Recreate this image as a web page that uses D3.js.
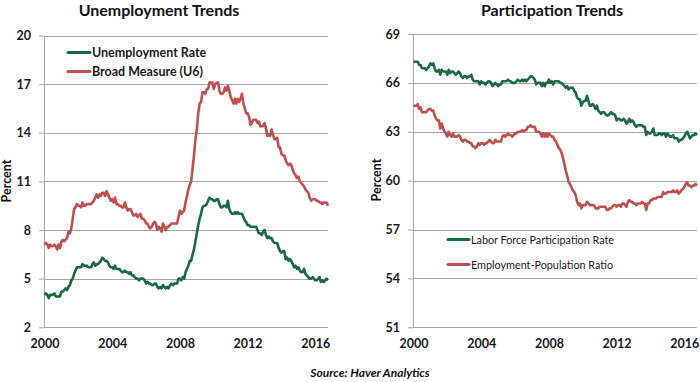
<!DOCTYPE html>
<html><head><meta charset="utf-8">
<script src="https://cdn.jsdelivr.net/npm/d3@7"></script>
<style>
html,body{margin:0;padding:0;background:#fff;}
svg{display:block;font-family:Lato,"Open Sans",sans-serif;}
</style></head>
<body><svg id="chart" width="700" height="382"></svg>
<script>
// Monthly data, Jan 2000 - Oct 2016
const startYear = 2000;
const unemploymentRate = [
4.0,4.1,4.0,3.8,4.0,4.0,4.0,4.1,3.9,3.9,3.9,3.9,
4.2,4.2,4.3,4.4,4.3,4.5,4.6,4.9,5.0,5.3,5.5,5.7,
5.7,5.7,5.7,5.9,5.8,5.8,5.8,5.7,5.7,5.7,5.9,6.0,
5.8,5.9,5.9,6.0,6.1,6.3,6.2,6.1,6.1,6.0,5.8,5.7,
5.7,5.6,5.8,5.6,5.6,5.6,5.5,5.4,5.4,5.5,5.4,5.4,
5.3,5.4,5.2,5.2,5.1,5.0,5.0,4.9,5.0,5.0,5.0,4.9,
4.7,4.8,4.7,4.7,4.6,4.6,4.7,4.7,4.5,4.4,4.5,4.4,
4.6,4.5,4.4,4.5,4.4,4.6,4.7,4.6,4.7,4.7,4.7,5.0,
5.0,4.9,5.1,5.0,5.4,5.6,5.8,6.1,6.1,6.5,6.8,7.3,
7.8,8.3,8.7,9.0,9.4,9.5,9.5,9.6,9.8,10.0,9.9,9.9,
9.8,9.8,9.9,9.9,9.6,9.4,9.4,9.5,9.5,9.4,9.8,9.3,
9.1,9.0,9.0,9.1,9.0,9.1,9.0,9.0,9.0,8.8,8.6,8.5,
8.3,8.3,8.2,8.2,8.2,8.2,8.2,8.0,7.8,7.8,7.7,7.9,
8.0,7.7,7.5,7.6,7.5,7.5,7.3,7.2,7.2,7.2,6.9,6.7,
6.6,6.7,6.7,6.2,6.3,6.1,6.2,6.1,5.9,5.7,5.8,5.6,
5.7,5.5,5.4,5.4,5.6,5.3,5.2,5.1,5.0,5.0,5.1,5.0,
4.9,4.9,5.0,5.1,4.8,4.9,4.8,4.9,5.0,4.9];
const broadMeasureU6 = [
7.1,7.2,7.1,6.9,7.1,7.0,7.0,7.1,7.0,6.8,7.1,6.9,
7.3,7.4,7.3,7.4,7.5,7.9,7.8,8.1,8.7,9.3,9.4,9.6,
9.5,9.5,9.4,9.7,9.5,9.5,9.6,9.6,9.6,9.6,9.7,9.8,
10.0,10.2,10.0,10.2,10.1,10.3,10.3,10.1,10.4,10.2,10.0,9.8,
9.9,9.7,10.0,9.6,9.6,9.5,9.5,9.4,9.4,9.7,9.4,9.2,
9.3,9.3,9.1,8.9,8.9,9.0,8.8,8.9,9.0,8.7,8.7,8.6,
8.4,8.4,8.2,8.1,8.2,8.4,8.5,8.4,8.0,8.2,8.1,7.9,
8.4,8.2,8.0,8.2,8.2,8.3,8.4,8.4,8.4,8.4,8.4,8.8,
9.2,9.0,9.1,9.2,9.7,10.1,10.5,10.8,11.0,11.8,12.6,13.6,
14.2,15.2,15.8,15.9,16.5,16.5,16.4,16.7,16.7,17.1,17.1,17.1,
16.7,17.0,17.1,17.1,16.6,16.4,16.4,16.5,16.8,16.6,16.9,16.6,
16.2,16.0,15.8,16.1,15.8,16.1,15.9,16.1,16.4,15.8,15.5,15.2,
15.2,15.0,14.5,14.6,14.8,14.8,14.8,14.6,14.7,14.4,14.4,14.4,
14.6,14.3,13.8,13.9,13.8,14.2,13.9,13.6,13.6,13.7,13.1,13.1,
12.7,12.6,12.6,12.3,12.1,12.0,12.1,12.0,11.7,11.5,11.4,11.2,
11.3,11.0,10.9,10.8,10.7,10.5,10.4,10.3,10.0,9.8,9.9,9.9,
9.9,9.8,9.8,9.7,9.7,9.6,9.7,9.7,9.7,9.5];
const laborForceParticipation = [
67.3,67.3,67.3,67.3,67.1,67.1,66.9,66.9,66.9,66.8,66.9,67.0,
67.2,67.1,67.2,66.9,66.7,66.7,66.8,66.5,66.8,66.7,66.7,66.7,
66.5,66.8,66.6,66.7,66.7,66.6,66.5,66.6,66.7,66.6,66.4,66.3,
66.4,66.4,66.3,66.4,66.4,66.5,66.2,66.1,66.1,66.1,66.1,65.9,
66.1,66.0,66.0,65.9,66.0,66.1,66.1,66.0,65.8,65.9,66.0,65.9,
65.8,65.9,65.9,66.1,66.1,66.1,66.1,66.2,66.1,66.1,66.0,66.0,
66.0,66.1,66.2,66.1,66.1,66.2,66.1,66.2,66.1,66.2,66.3,66.4,
66.4,66.3,66.2,65.9,66.0,66.0,66.0,65.8,66.0,65.8,66.0,66.0,
66.2,66.0,66.1,65.9,66.1,66.1,66.1,66.1,66.0,66.0,65.9,65.8,
65.7,65.8,65.6,65.7,65.7,65.7,65.5,65.4,65.1,65.0,65.0,64.6,
64.8,64.9,64.9,65.2,64.9,64.6,64.6,64.7,64.6,64.4,64.6,64.3,
64.2,64.1,64.2,64.2,64.1,64.0,64.0,64.1,64.2,64.1,64.1,64.0,
63.7,63.8,63.8,63.7,63.7,63.8,63.7,63.5,63.6,63.8,63.6,63.7,
63.6,63.4,63.3,63.4,63.4,63.4,63.4,63.3,63.3,62.8,63.0,62.9,
62.9,63.0,63.2,62.8,62.8,62.8,62.9,62.9,62.8,62.9,62.9,62.7,
62.9,62.8,62.7,62.7,62.8,62.6,62.6,62.6,62.4,62.5,62.5,62.6,
62.7,62.9,63.0,62.8,62.6,62.7,62.8,62.8,62.9,62.8];
const employmentPopulation = [
64.6,64.6,64.6,64.7,64.4,64.5,64.2,64.2,64.2,64.2,64.3,64.4,
64.4,64.3,64.3,64.0,63.8,63.7,63.7,63.2,63.5,63.2,63.0,62.9,
62.7,63.0,62.8,62.7,62.9,62.7,62.7,62.7,62.8,62.7,62.5,62.4,
62.5,62.5,62.4,62.4,62.3,62.3,62.1,62.1,62.0,62.1,62.3,62.2,
62.3,62.3,62.2,62.3,62.3,62.4,62.5,62.4,62.3,62.3,62.5,62.4,
62.4,62.4,62.4,62.7,62.8,62.7,62.8,62.9,62.8,62.8,62.7,62.8,
62.9,62.9,63.0,63.0,63.0,63.1,63.0,63.1,63.1,63.3,63.3,63.4,
63.3,63.3,63.3,63.0,63.0,63.0,62.9,62.7,62.9,62.7,62.9,62.7,
62.9,62.8,62.7,62.7,62.5,62.4,62.2,62.0,61.9,61.7,61.4,61.0,
60.6,60.3,59.9,59.8,59.6,59.4,59.3,59.1,58.7,58.5,58.6,58.3,
58.5,58.5,58.5,58.7,58.6,58.5,58.5,58.5,58.5,58.3,58.3,58.3,
58.4,58.4,58.4,58.4,58.4,58.2,58.2,58.3,58.3,58.4,58.5,58.5,
58.4,58.5,58.5,58.4,58.6,58.6,58.5,58.4,58.7,58.8,58.7,58.7,
58.6,58.6,58.5,58.6,58.6,58.6,58.7,58.6,58.6,58.2,58.6,58.6,
58.8,58.8,58.9,58.9,58.9,59.0,59.0,59.0,59.0,59.3,59.2,59.2,
59.3,59.3,59.3,59.3,59.4,59.3,59.3,59.4,59.2,59.3,59.4,59.5,
59.6,59.8,59.9,59.7,59.7,59.6,59.7,59.7,59.8,59.7];

const xTicks = [2000, 2004, 2008, 2012, 2016];
const leftYTicks = [2, 5, 8, 11, 14, 17, 20];
const rightYTicks = [51, 54, 57, 60, 63, 66, 69];
const leftSeries = [
  {name: "Unemployment Rate", values: unemploymentRate, color: "#1a6b45"},
  {name: "Broad Measure (U6)", values: broadMeasureU6, color: "#c0504d"}
];
const rightSeries = [
  {name: "Labor Force Participation Rate", values: laborForceParticipation, color: "#1a6b45"},
  {name: "Employment-Population Ratio", values: employmentPopulation, color: "#c0504d"}
];

const svg = d3.select("#chart");
const lastYear = startYear + (unemploymentRate.length - 1) / 12;

function panel(cfg) {
  const x = d3.scaleLinear().domain([startYear, lastYear]).range([cfg.x0, cfg.x1]);
  const y = d3.scaleLinear().domain([cfg.yTicks[0], cfg.yTicks[cfg.yTicks.length-1]]).range([cfg.y0, cfg.y1]);
  const g = svg.append("g");
  // gridlines
  g.append("g").selectAll("line").data(cfg.yTicks.slice(1)).join("line")
    .attr("x1", cfg.x0 - 0.5).attr("x2", cfg.xEnd)
    .attr("y1", d => Math.round(y(d)) + 0.5).attr("y2", d => Math.round(y(d)) + 0.5)
    .attr("stroke", "#a6a6a6").attr("stroke-width", 1);
  // y axis
  const yAxis = g.append("g").attr("transform", `translate(${cfg.x0 - 0.5},0)`)
    .call(d3.axisLeft(y).tickValues(cfg.yTicks).tickSize(5).tickPadding(8).tickSizeOuter(0));
  yAxis.select(".domain").attr("stroke", "#a6a6a6");
  yAxis.selectAll(".tick line").attr("stroke", "#a6a6a6");
  yAxis.selectAll(".tick text").attr("font-family", "Lato").attr("font-weight", "bold")
    .attr("font-size", 12.5).attr("fill", "#1a1a1a");
  // x axis
  const xAxis = g.append("g").attr("transform", `translate(0,${Math.round(y(cfg.yTicks[0])) + 0.5})`)
    .call(d3.axisBottom(x).tickValues(xTicks).tickFormat(d3.format("d")).tickSize(0).tickPadding(12).tickSizeOuter(0));
  xAxis.select(".domain").attr("stroke", "#a6a6a6").attr("d", `M${cfg.x0 - 0.5},0H${cfg.xEnd}`);
  xAxis.selectAll(".tick text").attr("font-family", "Lato").attr("font-weight", "bold")
    .attr("font-size", 12.5).attr("fill", "#1a1a1a");
  // lines
  const line = d3.line().x((d, i) => x(startYear + i / 12)).y(d => y(d));
  cfg.series.forEach(s => {
    g.append("path").datum(s.values).attr("d", line)
      .attr("fill", "none").attr("stroke", s.color).attr("stroke-width", 2.6)
      .attr("stroke-linejoin", "round");
  });
  // title
  g.append("text").attr("x", cfg.titleX).attr("y", 16).attr("text-anchor", "middle")
    .attr("font-weight", "bold").attr("font-size", 16).attr("fill", "#111").text(cfg.title);
  // y label
  g.append("text").attr("transform", `translate(${cfg.labelX},${cfg.labelY}) rotate(-90)`)
    .attr("text-anchor", "middle").attr("font-weight", "bold").attr("font-size", 12.5)
    .attr("fill", "#111").text("Percent");
  // legend
  cfg.series.forEach((s, i) => {
    const ly = cfg.legY + i * cfg.legGap;
    g.append("line").attr("x1", cfg.legX).attr("x2", cfg.legX + cfg.legLen)
      .attr("y1", ly).attr("y2", ly).attr("stroke", s.color).attr("stroke-width", 3)
      .attr("stroke-linecap", "round");
    g.append("text").attr("x", cfg.legX + cfg.legLen + 2).attr("y", ly + 4.5)
      .attr("font-weight", cfg.legWeight).attr("font-size", cfg.legSize).attr("fill", "#1a1a1a").text(s.name);
  });
}

panel({x0: 44.5, x1: 328, xEnd: 328, y0: 327.3, y1: 35.5, yTicks: leftYTicks, series: leftSeries,
  title: "Unemployment Trends", titleX: 159, labelX: 11, labelY: 181,
  legX: 68, legLen: 22, legY: 52.5, legGap: 19, legWeight: "bold", legSize: 12.5});
panel({x0: 413.5, x1: 697, xEnd: 697, y0: 327.3, y1: 34, yTicks: rightYTicks, series: rightSeries,
  title: "Participation Trends", titleX: 552, labelX: 381, labelY: 180,
  legX: 448, legLen: 21, legY: 239.5, legGap: 25, legWeight: "normal", legSize: 10.8});

svg.append("text").attr("x", 370).attr("y", 377).attr("text-anchor", "middle")
  .attr("font-weight", "bold").attr("font-style", "italic").attr("font-size", 12)
  .attr("fill", "#111").text("Source: Haver Analytics");
</script>
</body></html>
